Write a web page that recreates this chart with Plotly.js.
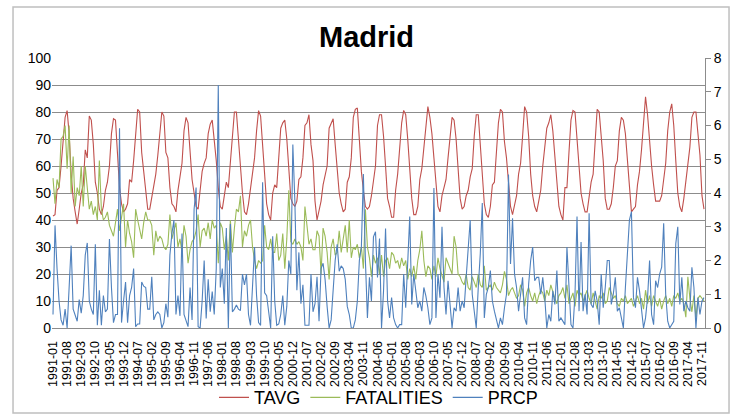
<!DOCTYPE html>
<html>
<head>
<meta charset="utf-8">
<script src="https://cdn.plot.ly/plotly-3.0.1.min.js"></script>
<style>html,body{margin:0;padding:0;background:#fff;}#chart{width:733px;height:415px;}</style>
</head>
<body>
<div id="chart"></div>
<script>
const years = [1991,1992,1993,1994,1995,1996,1997,1998,1999,2000,2001,2002,2003,2004,2005,2006,2007,2008,2009,2010,2011,2012,2013,2014,2015,2016,2017];
const monthCodes = ['01','02','03','04','05','06','07','08','09','10','11','12'];

// TAVG (left axis), monthly
const TAVG = [
41.5,42,51,52,60,71,78,80.5,72,57,48,43,
38.5,44,50,53,66,63,78.5,77,68,54,50,44,
42,45,51,54,60,72,77.5,77,65,52,46,43,
44,46,55,54,62,73,81,80,65,58,51,44,
44,48,52,57,64,72,80,78.5,65,63,52,46,
45,43,51,56,61,73,78,76,65,55,50,45,
44,50,58,61,63,72,75.5,77,70,62,52,45,
44,49,54,52,62,73,80,80,69,57,50,43,
42,46,52,56,63,73,80.5,78.5,69,57,46,42,
40,50,53,52,63,74,76,77,70,57,48,46,
45,47,55,56,63,75,76,79,68,62,47,40,
44,47,53,56,60,74,75.5,77.5,68,60,50,46,
43,44,54,56,63,78,81,81.5,69,58,51,45,
44,45,49,55,60,75,79,79,71,60,48,45,
41,41,51,57,65,76,80.6,79,70,60,48,42,
42,45,55,59,66,75,82,78,72,63,55,45,
43,49,52,55,63,70,78,77,70,59,48,44,
45,49,51,56,59,71,79,79,69,58,46,42,
41,45,53,54,65,76,81,80,69,63,54,45,
42,45,49,57,61,71,82,80,71,57,49,45,
43,47,51,60,66,74,76,79,73,63,52,45,
42,40,52,52,65,77,80.6,80,70,58,50,46,
43,43,49,54,57,70,81,80,72,62,48,44,
44,46,52,60,62,73,78,77,72,63,51,43,
44,45,53,58,66,76,85.6,79,68,60,53,47,
47,47,49,55,61,73,80,83,75,62,50,45,
43,48,54,59,67,78,80,80,71,64,49,44
];

// FATALITIES (left axis), monthly
const FATALITIES = [
55.5,46,55,52,70,71,75,59,75,50,63.5,45,
52,49,60,45,60,52,44,47,42,45,40,62,
44,40,41,43,38,36,34,39,44,36,41,46,
30,40,35,32,26,44,40,36,33,39,43,40,
40,38,27,36,32,34,33,30,29,31,42,33,
36,39,30,33,28,38,34,24,29,32,33,36,
42,30,36,37,34,39,33,40,37,38,24,39,
37,29,34,25,40,28,37,44,43,49,30,36,
34,38,40,30,25,22,25,24,25,38,30,29,
33,28,28,35,25,27,35,22,33,51,32,31,
33,31,32,30,25,45,38,31,33,29,29,36,
34,20,37,34,28,18,30,33,27,28,36,28,
33,38,28,40,26,30,29,31,26,30,22,44,
30,26,19,27,24,26,20,27,19,25,26,22,
28,27,24,25,22,26,23,25,18,22,19,23,
18,25,29,36,25,19,23,22,18,23,19,26,
22,19,17,26,24,22,20,34,30,20,19,17,
16,20,15,14,19,17,15,20,16,15,23,14,
15,16,14,17,15,14,13,16,21,18,12,14,
15,13,11,12,16,14,8,13,15,12,10,13,
9,12,14,13,10,14,12,16,13,11,9,12,
13,15,11,16,9,11,13,8,14,12,13,10,
12,14,11,9,13,10,7,12,11,13,9,10,
15,13,11,12,9,8,11,10,12,9,10,11,
8,10,12,9,11,7,14,9,12,8,12,10,
8,11,7,10,12,9,11,8,12,11,13,10,
11,9,4,19,11,6,12,4,11,12,11,10
];

// PRCP (right axis), monthly
const PRCP = [
0.4,3.04,1.76,0.8,0.24,0.08,0.56,0.0,1.2,2.44,0.56,0.4,
0.2,0.84,0.44,0.96,2.16,2.52,0.8,0.56,0.4,2.48,0.08,1.12,
0.08,0.96,0.48,0.56,2.64,1.2,0.16,0.4,0.4,5.92,0.16,0.8,
1.36,0.16,0.96,1.2,1.76,0.04,0.12,0.12,1.36,1.24,1.2,0.56,
0.56,1.52,0.24,0.4,0.48,0.4,0.0,0.16,0.72,0.32,2.16,2.8,
3.2,0.4,0.96,0.36,2.8,0.4,0.24,0.04,1.2,0.24,3.52,4.16,
0.04,0.0,0.8,2.0,0.28,1.44,0.48,1.08,0.4,1.76,7.2,1.2,
1.76,0.72,2.96,0.0,3.08,0.48,0.56,0.68,0.56,0.52,1.6,1.28,
1.6,0.4,0.08,1.44,2.4,0.96,0.16,0.08,4.32,1.04,0.96,0.48,
0.0,2.72,0.8,0.08,0.12,0.4,0.96,0.08,0.64,2.0,1.6,5.44,
3.76,1.12,2.24,0.72,1.28,0.08,0.08,0.08,1.6,0.48,0.72,1.52,
0.2,1.76,1.92,1.44,0.64,0.0,0.24,1.12,2.0,2.48,1.68,1.84,
1.76,1.44,0.64,0.4,0.0,0.0,0.24,0.8,2.0,2.4,4.56,2.0,
0.3,1.5,0.8,2.7,2.85,1.5,2.65,0.0,1.1,2.95,0.8,0.3,
0.9,0.3,0.1,0.0,0.1,0.1,1.6,0.6,2.2,3.3,0.7,1.6,
1.1,0.6,0.8,0.5,1.2,0.95,0.6,0.1,0.3,4.15,0.3,1.6,
0.9,3.0,1.2,0.4,1.4,0.6,0.0,0.6,0.5,1.2,0.5,0.8,
0.6,1.5,2.5,3.2,1.0,0.4,0.0,1.2,2.2,3.7,0.3,1.0,
1.2,1.7,0.8,0.5,0.2,0.0,0.3,0.1,0.6,1.0,4.55,1.9,
3.25,1.6,1.2,0.5,1.0,1.5,0.3,0.1,1.3,2.0,2.4,1.4,
1.5,1.5,1.0,1.5,0.9,0.0,0.4,0.2,1.1,0.7,1.7,0.2,
0.3,0.2,0.1,2.4,1.2,0.1,0.0,1.0,3.3,0.5,2.55,0.5,
1.0,0.4,3.4,0.7,0.6,1.1,0.8,0.1,1.6,0.6,1.2,2.0,
2.0,0.7,1.0,1.5,0.5,0.6,0.3,0.0,1.2,2.1,3.2,3.45,
0.9,0.6,1.5,1.1,0.6,0.0,0.3,0.9,2.0,0.4,0.1,1.4,
1.2,1.6,1.8,3.1,1.0,0.2,0.0,0.1,0.2,2.5,3.0,0.7,
1.5,0.5,0.8,0.6,0.5,1.8,1.2,0.0,0.9,0.4,0.8,0.9
];

const categories = [];
years.forEach(y => monthCodes.forEach(m => categories.push(y + '-' + m)));
const tickLabels = categories.filter((c, i) => i % 7 === 0);

const FONT = '"Liberation Sans", Arial, sans-serif';
const GRID = '#8c8c8c';

const traces = [
  {x: categories, y: TAVG, name: 'TAVG', type: 'scatter', mode: 'lines', line: {color: '#C0504D', width: 1.1}, yaxis: 'y'},
  {x: categories, y: FATALITIES, name: 'FATALITIES', type: 'scatter', mode: 'lines', line: {color: '#9BBB59', width: 1.1}, yaxis: 'y'},
  {x: categories, y: PRCP, name: 'PRCP', type: 'scatter', mode: 'lines', line: {color: '#4F81BD', width: 1.1}, yaxis: 'y2'}
];

const layout = {
  width: 733, height: 415,
  margin: {l: 52, r: 28, t: 58, b: 87, autoexpand: false},
  paper_bgcolor: '#fff', plot_bgcolor: '#fff',
  font: {family: FONT, color: '#000'},
  title: {text: '<b>Madrid</b>', font: {family: FONT, size: 29, color: '#000'}, x: 0.5, xanchor: 'center', xref: 'container', yref: 'container', y: 0.912, yanchor: 'middle'},
  showlegend: true,
  legend: {orientation: 'h', x: 0.5, xanchor: 'center', y: -0.258, yanchor: 'middle', bgcolor: 'rgba(0,0,0,0)',
           font: {family: FONT, size: 18, color: '#000'}, traceorder: 'normal', itemwidth: 30},
  xaxis: {type: 'category', range: [-0.5, categories.length - 0.5], tickmode: 'array', tickvals: tickLabels, ticktext: tickLabels,
          tickangle: -90, tickfont: {family: FONT, size: 12.5, color: '#000'}, showgrid: false, showline: true, linecolor: GRID, linewidth: 1,
          ticks: 'outside', ticklen: 7, tickcolor: 'rgba(0,0,0,0)', zeroline: false, fixedrange: true, automargin: false},
  yaxis: {range: [0, 100], dtick: 10, tick0: 0, showgrid: true, gridcolor: GRID, gridwidth: 1, showline: false, zeroline: false,
          ticks: '', tickfont: {family: FONT, size: 14, color: '#000'}, fixedrange: true, automargin: false},
  yaxis2: {range: [0, 8], dtick: 1, tick0: 0, overlaying: 'y', side: 'right', showgrid: false, showline: true, linecolor: GRID, linewidth: 1,
           ticks: 'outside', ticklen: 5, tickcolor: GRID, zeroline: false, tickfont: {family: FONT, size: 14, color: '#000'}, fixedrange: true, automargin: false},
  shapes: [{type: 'rect', xref: 'paper', yref: 'paper', x0: -0.0597, x1: 1.0368, y0: -0.3148, y1: 1.1889,
            line: {color: '#bfbfbf', width: 1.5}, fillcolor: 'rgba(0,0,0,0)', layer: 'below'}]
};

Plotly.newPlot('chart', traces, layout, {staticPlot: true, displayModeBar: false});
</script>
</body>
</html>
